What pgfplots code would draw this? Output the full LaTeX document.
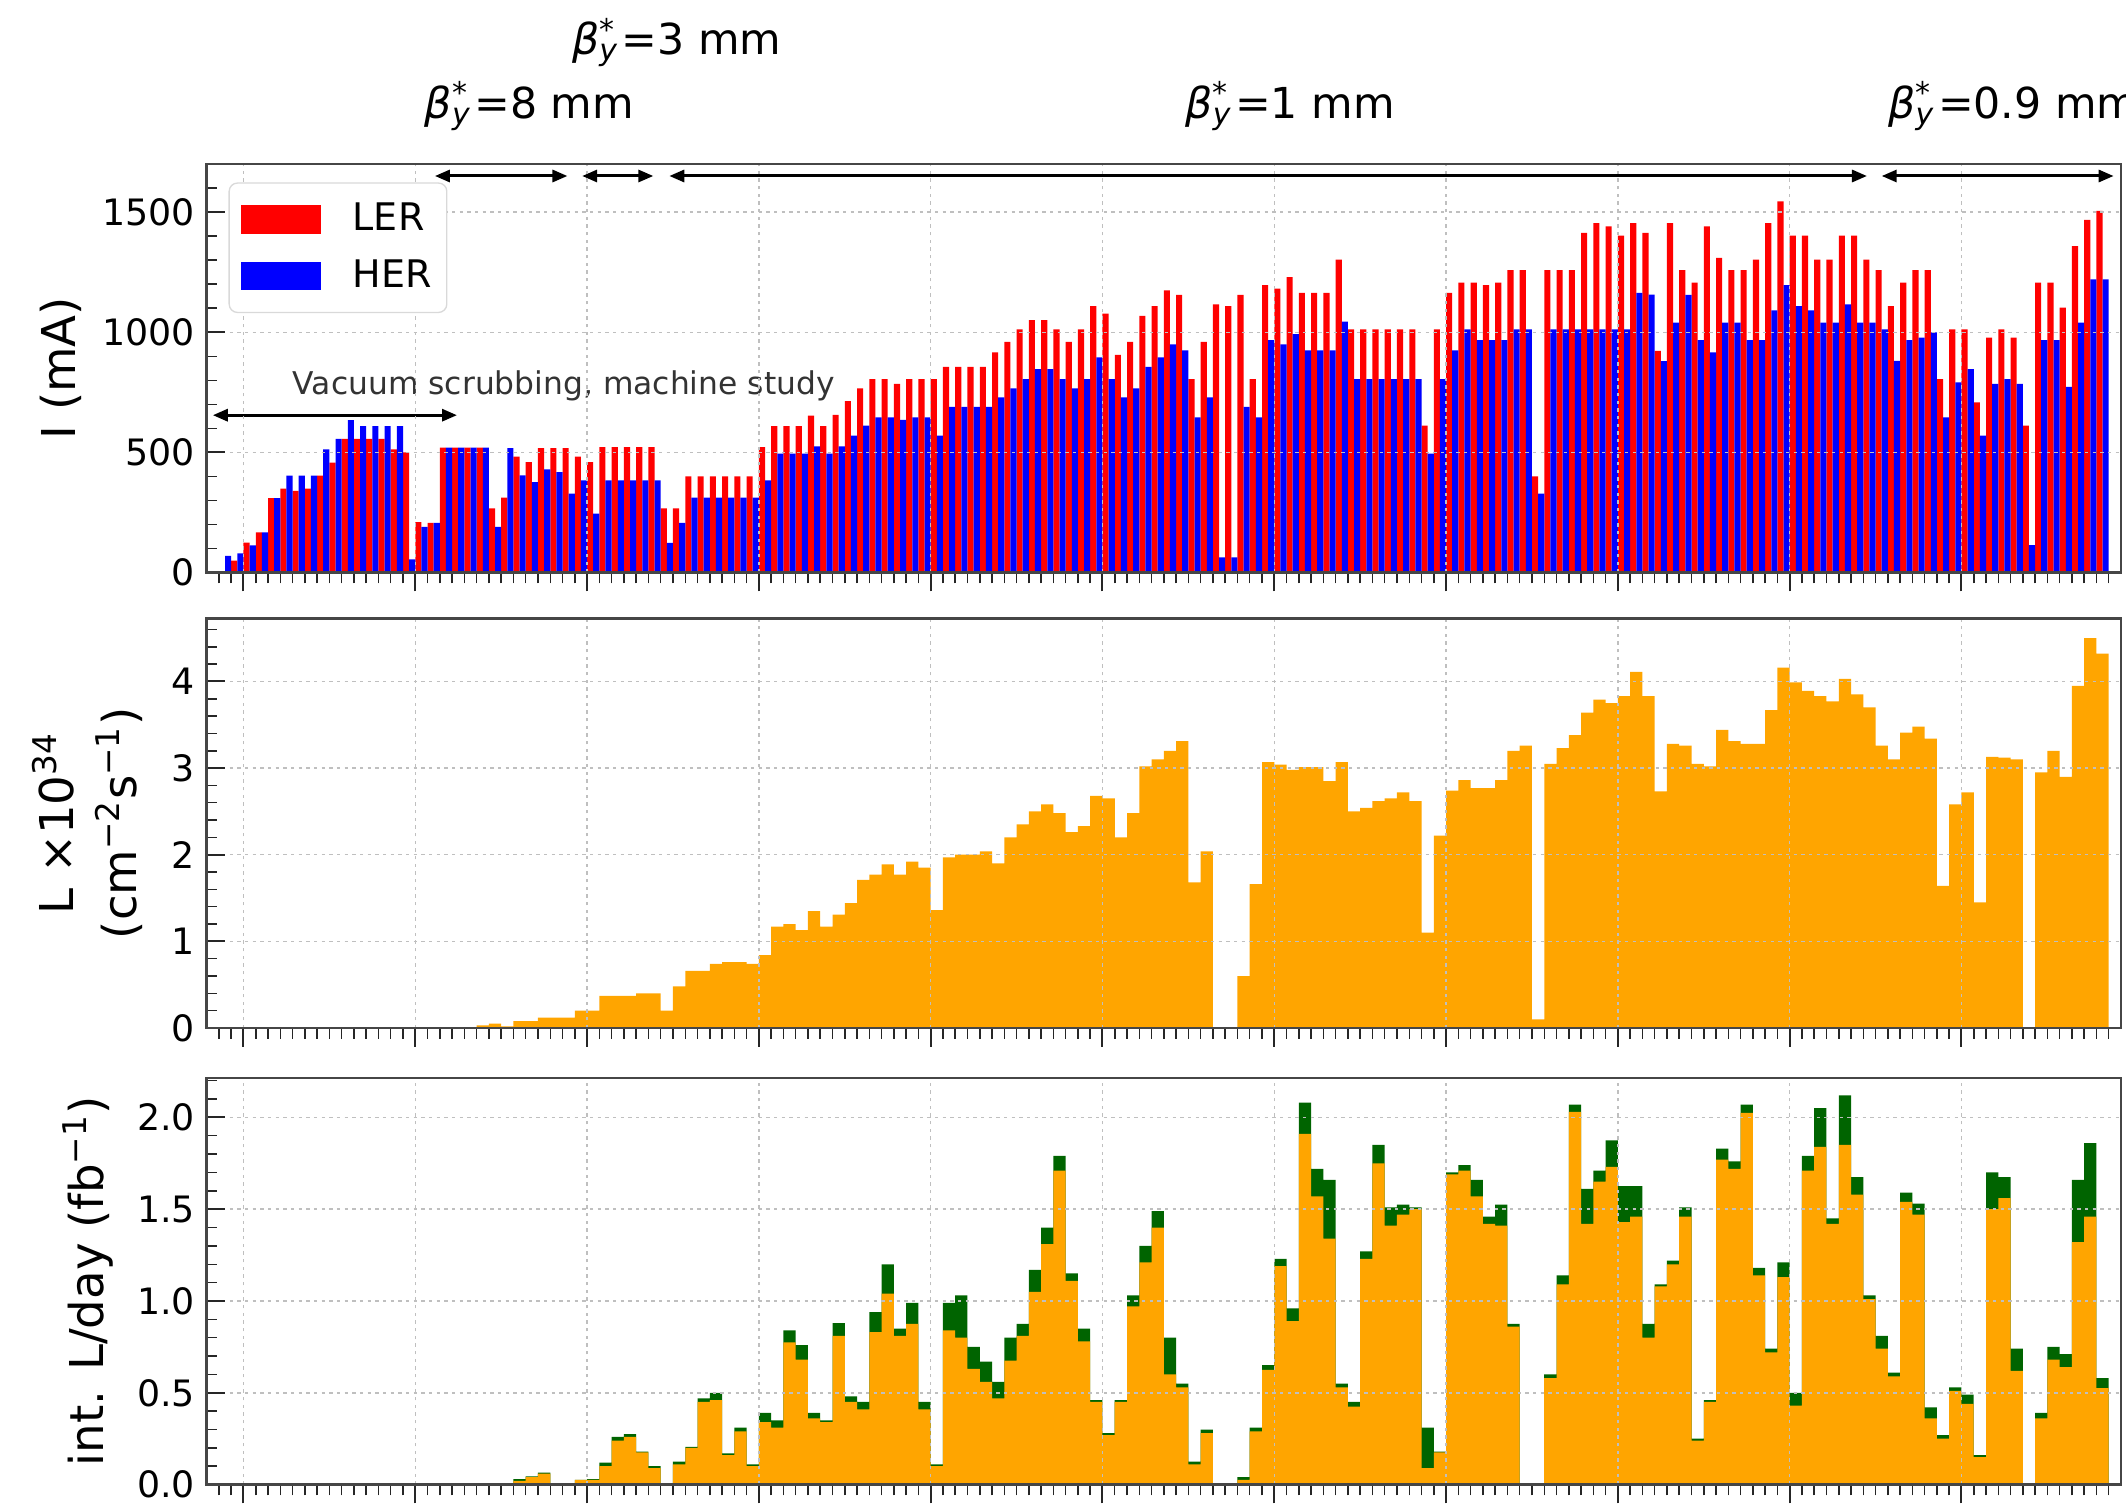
\documentclass[border=0pt]{standalone}
\usepackage{fontspec}
\setmainfont{DejaVu Sans}[ItalicFont={DejaVu Sans Oblique},BoldFont={DejaVu Sans Bold}]
\usepackage{pgfplots}
\pgfplotsset{compat=1.18}
\usepackage{pgfplotstable}
\usetikzlibrary{arrows.meta}

\definecolor{lerred}{RGB}{255,0,0}
\definecolor{herblue}{RGB}{0,0,255}
\definecolor{lumorange}{RGB}{255,165,0}
\definecolor{lumgreen}{RGB}{0,100,0}
\definecolor{framegray}{RGB}{70,70,70}

% daily stored beam currents (mA); day d occupies [d, d+1]
\pgfplotstableread{
d ler her
-2 0 70
-1 50 80
0 125 113
1 168 168
2 310 310
3 350 404
4 340 404
5 350 404
6 404 513
7 458 557
8 557 634
9 557 610
10 557 610
11 557 610
12 513 610
13 500 55
14 210 190
15 207 207
16 520 520
17 520 520
18 520 520
19 520 520
20 267 190
21 312 518
22 483 405
23 460 377
24 518 430
25 518 418
26 518 329
27 483 384
28 460 246
29 522 384
30 522 384
31 522 384
32 522 384
33 522 384
34 267 124
35 267 207
36 400 312
37 400 312
38 400 312
39 400 312
40 400 312
41 400 312
42 522 384
43 610 495
44 610 495
45 610 495
46 653 525
47 610 495
48 656 525
49 713 570
50 767 612
51 805 646
52 805 646
53 785 635
54 805 646
55 805 646
56 805 570
57 856 690
58 856 690
59 856 690
60 856 690
61 916 729
62 960 767
63 1012 805
64 1050 847
65 1050 847
66 1012 805
67 960 767
68 1012 805
69 1109 895
70 1077 805
71 906 729
72 960 767
73 1068 856
74 1109 895
75 1174 950
76 1155 925
77 805 646
78 960 729
79 1116 64
80 1109 64
81 1155 690
82 805 646
83 1196 967
84 1182 950
85 1229 992
86 1164 925
87 1164 925
88 1164 925
89 1302 1044
90 1012 805
91 1012 805
92 1012 805
93 1012 805
94 1012 805
95 1012 805
96 612 495
97 1012 805
98 1164 925
99 1206 1012
100 1206 967
101 1196 967
102 1206 967
103 1258 1012
104 1258 1012
105 400 329
106 1258 1012
107 1258 1012
108 1258 1012
109 1413 1012
110 1454 1012
111 1440 1012
112 1402 1012
113 1454 1164
114 1413 1157
115 923 880
116 1454 1040
117 1258 1155
118 1206 967
119 1440 916
120 1309 1040
121 1258 1040
122 1258 967
123 1302 967
124 1454 1091
125 1544 1196
126 1402 1109
127 1402 1091
128 1302 1040
129 1302 1040
130 1402 1116
131 1402 1040
132 1302 1040
133 1258 1012
134 1109 881
135 1206 967
136 1258 978
137 1258 999
138 805 646
139 1012 791
140 1012 847
141 708 570
142 978 785
143 1012 805
144 978 785
145 612 115
146 1206 967
147 1206 967
148 1102 773
149 1358 1040
150 1468 1220
151 1505 1220
}\currents

% peak luminosity per day (10^34 cm^-2 s^-1)
\pgfplotstableread{
d lum
19 0.03
20 0.05
21 0.02
22 0.08
23 0.08
24 0.12
25 0.12
26 0.12
27 0.20
28 0.20
29 0.37
30 0.37
31 0.37
32 0.40
33 0.40
34 0.20
35 0.48
36 0.66
37 0.66
38 0.74
39 0.76
40 0.76
41 0.74
42 0.84
43 1.17
44 1.20
45 1.13
46 1.35
47 1.17
48 1.31
49 1.44
50 1.71
51 1.77
52 1.89
53 1.77
54 1.92
55 1.85
56 1.36
57 1.97
58 2.00
59 2.00
60 2.04
61 1.90
62 2.20
63 2.35
64 2.50
65 2.58
66 2.48
67 2.26
68 2.33
69 2.68
70 2.65
71 2.20
72 2.48
73 3.02
74 3.10
75 3.20
76 3.31
77 1.68
78 2.04
79 0
80 0
81 0.60
82 1.66
83 3.07
84 3.04
85 2.98
86 3.01
87 3.01
88 2.85
89 3.07
90 2.50
91 2.54
92 2.62
93 2.65
94 2.72
95 2.62
96 1.10
97 2.22
98 2.74
99 2.86
100 2.77
101 2.77
102 2.86
103 3.20
104 3.26
105 0.10
106 3.05
107 3.23
108 3.38
109 3.64
110 3.79
111 3.75
112 3.83
113 4.11
114 3.83
115 2.73
116 3.28
117 3.26
118 3.05
119 3.02
120 3.44
121 3.31
122 3.28
123 3.28
124 3.67
125 4.16
126 3.99
127 3.89
128 3.83
129 3.77
130 4.03
131 3.85
132 3.70
133 3.26
134 3.10
135 3.41
136 3.48
137 3.34
138 1.64
139 2.58
140 2.72
141 1.45
142 3.13
143 3.12
144 3.10
145 0
146 2.95
147 3.20
148 2.90
149 3.95
150 4.50
151 4.32
}\lumi

% integrated luminosity per day (fb^-1): physics part and total
\pgfplotstableread{
d phys tot
22 0.02 0.03
23 0.04 0.045
24 0.06 0.065
25 0 0
26 0 0
27 0.025 0.025
28 0.025 0.03
29 0.10 0.12
30 0.24 0.26
31 0.26 0.275
32 0.175 0.18
33 0.09 0.10
34 0 0
35 0.11 0.125
36 0.20 0.205
37 0.45 0.47
38 0.46 0.50
39 0.16 0.17
40 0.29 0.31
41 0.10 0.11
42 0.34 0.39
43 0.31 0.35
44 0.775 0.84
45 0.68 0.76
46 0.36 0.39
47 0.34 0.35
48 0.81 0.88
49 0.45 0.48
50 0.41 0.45
51 0.83 0.94
52 1.04 1.20
53 0.81 0.85
54 0.875 0.99
55 0.41 0.45
56 0.10 0.11
57 0.84 0.99
58 0.80 1.03
59 0.63 0.75
60 0.56 0.67
61 0.47 0.56
62 0.675 0.80
63 0.81 0.875
64 1.05 1.17
65 1.31 1.40
66 1.71 1.79
67 1.11 1.15
68 0.78 0.85
69 0.45 0.46
70 0.27 0.28
71 0.45 0.46
72 0.97 1.03
73 1.21 1.30
74 1.40 1.49
75 0.60 0.80
76 0.53 0.55
77 0.11 0.125
78 0.28 0.30
79 0 0
80 0 0
81 0.025 0.04
82 0.29 0.31
83 0.625 0.65
84 1.19 1.23
85 0.89 0.96
86 1.91 2.08
87 1.57 1.72
88 1.34 1.66
89 0.53 0.55
90 0.425 0.45
91 1.23 1.27
92 1.75 1.85
93 1.41 1.51
94 1.47 1.525
95 1.50 1.51
96 0.09 0.31
97 0.175 0.18
98 1.69 1.70
99 1.71 1.74
100 1.57 1.66
101 1.42 1.46
102 1.41 1.525
103 0.86 0.875
104 0 0
105 0 0
106 0.58 0.60
107 1.09 1.14
108 2.03 2.07
109 1.42 1.61
110 1.65 1.71
111 1.73 1.875
112 1.43 1.625
113 1.46 1.625
114 0.80 0.875
115 1.08 1.09
116 1.20 1.22
117 1.46 1.51
118 0.24 0.25
119 0.45 0.46
120 1.77 1.83
121 1.72 1.76
122 2.025 2.07
123 1.14 1.18
124 0.72 0.74
125 1.13 1.21
126 0.43 0.50
127 1.71 1.79
128 1.84 2.05
129 1.42 1.45
130 1.85 2.12
131 1.58 1.675
132 1.01 1.03
133 0.74 0.81
134 0.59 0.61
135 1.54 1.59
136 1.47 1.53
137 0.36 0.42
138 0.25 0.27
139 0.51 0.53
140 0.44 0.49
141 0.15 0.16
142 1.50 1.70
143 1.56 1.675
144 0.62 0.74
145 0 0
146 0.36 0.39
147 0.68 0.75
148 0.64 0.71
149 1.32 1.66
150 1.46 1.86
151 0.525 0.58
}\intlumi

\pgfplotsset{
  runpanel/.style={
    scale only axis, width=574.3pt,
    anchor=south west,
    xmin=-3, xmax=153,
    xtick={0,14,...,140}, minor xtick={-2,-1,...,152},
    xticklabels={},
    xtick pos=bottom, ytick pos=left,
    tick align=inside,
    major tick length=5.6pt, minor tick length=3.2pt,
    every major x tick/.append style={yshift=-5.6pt},
    every minor x tick/.append style={yshift=-3.2pt},
    every tick/.style={black!85, line width=0.6pt},
    every minor tick/.append style={line width=0.45pt},
    axis line style={framegray, line width=0.8pt},
    grid=major,
    major grid style={gray!50, line width=0.45pt, dash pattern=on 1pt off 1.3pt},
    axis on top,
    tick label style={font=\fontsize{10.9}{13}\selectfont},
    /pgf/number format/assume math mode=true,
    /pgf/number format/1000 sep={},
    ylabel style={font=\fontsize{14}{17}\selectfont, anchor=center, align=center},
  },
}
\tikzset{
  betalabel/.style={font=\fontsize{12.8}{15}\selectfont, inner sep=0pt},
  periodarrow/.style={line width=0.9pt, black,
    {Triangle[length=4.5pt,width=3.6pt]}-{Triangle[length=4.5pt,width=3.6pt]}},
}

\newcommand{\betay}{\textit{β}\makebox[0pt][l]{\textsuperscript{*}}\textsubscript{\textit{y}}\kern0.8pt}

\begin{document}
\begin{tikzpicture}
\path[use as bounding box] (0,0) rectangle (637.8pt,452.1pt);

% ---------------- beam currents ----------------
\begin{axis}[runpanel, at={(62pt,280.3pt)}, height=122.6pt,
  ymin=0, ymax=1700,
  ytick={0,500,1000,1500}, minor ytick={100,200,...,1600},
  ylabel={I (mA)},
  ylabel style={at={(rel axis cs:-0.0761,0.5)}},
  clip=false,
  legend cell align=left,
  legend style={at={(rel axis cs:0.0114,0.955)}, anchor=north west,
    draw=gray!30, rounded corners=2.5pt, fill=white,
    font=\fontsize{11.4}{13}\selectfont,
    inner xsep=3.5pt, inner ysep=5pt, row sep=5.2pt,
    /tikz/every odd column/.append style={column sep=8.5pt},
    nodes={inner sep=1pt}},
]
\addplot[ybar, bar width=0.5, bar shift=0.25, fill=lerred, draw=none, forget plot]
  table[x=d, y=ler] {\currents};
\addplot[ybar, bar width=0.5, bar shift=0.75, fill=herblue, draw=none, forget plot]
  table[x=d, y=her] {\currents};

\addlegendimage{legend image code/.code={\fill[lerred, sharp corners] (0pt,-4.05pt) rectangle (23.7pt,4.05pt);}}
\addlegendentry{LER}
\addlegendimage{legend image code/.code={\fill[herblue, sharp corners] (0pt,-4.05pt) rectangle (23.7pt,4.05pt);}}
\addlegendentry{HER}

% running periods of the vertical beta function at the IP
\draw[periodarrow] (axis cs:15.6,1650) -- (axis cs:26.4,1650);
\draw[periodarrow] (axis cs:27.6,1650) -- (axis cs:33.4,1650);
\draw[periodarrow] (axis cs:34.7,1650) -- (axis cs:132.3,1650);
\draw[periodarrow] (axis cs:133.5,1650) -- (axis cs:152.4,1650);
\node[betalabel] at (axis cs:23.3,1941) {\betay=8 mm};
\node[betalabel] at (axis cs:35.3,2205) {\betay=3 mm};
\node[betalabel] at (axis cs:85.3,1941) {\betay=1 mm};
\node[betalabel, anchor=west] at (axis cs:134.0,1941) {\betay=0.9 mm};

\draw[periodarrow] (axis cs:-2.5,655) -- (axis cs:17.4,655);
\node[font=\fontsize{9.4}{11}\selectfont, text=black!80] at (axis cs:26.1,778)
  {Vacuum scrubbing, machine study};
\end{axis}

% ---------------- peak luminosity ----------------
\begin{axis}[runpanel, at={(62pt,143.7pt)}, height=122.8pt,
  ymin=0, ymax=4.725,
  ytick={0,1,2,3,4}, minor ytick={0.2,0.4,...,4.6},
  ylabel={L ×10\textsuperscript{34}\\[2pt](cm\textsuperscript{−2}s\textsuperscript{−1})},
  ylabel style={at={(rel axis cs:-0.0623,0.5)}},
]
\addplot[ybar, bar width=1, bar shift=0.5, fill=lumorange, draw=none]
  table[x=d, y=lum] {\lumi};
\end{axis}

% ---------------- integrated luminosity per day ----------------
\begin{axis}[runpanel, at={(62pt,6.72pt)}, height=122.0pt,
  ymin=0, ymax=2.215,
  ytick={0,0.5,1,1.5,2}, minor ytick={0.1,0.2,...,2.2},
  yticklabel style={/pgf/number format/.cd, fixed, fixed zerofill, precision=1},
  ylabel={int. L/day (fb\textsuperscript{−1})},
  ylabel style={at={(rel axis cs:-0.062,0.5)}},
]
\addplot[ybar, bar width=1, bar shift=0.5, fill=lumgreen, draw=none]
  table[x=d, y=tot] {\intlumi};
\addplot[ybar, bar width=1, bar shift=0.5, fill=lumorange, draw=none]
  table[x=d, y=phys] {\intlumi};
\end{axis}
\end{tikzpicture}
\end{document}
